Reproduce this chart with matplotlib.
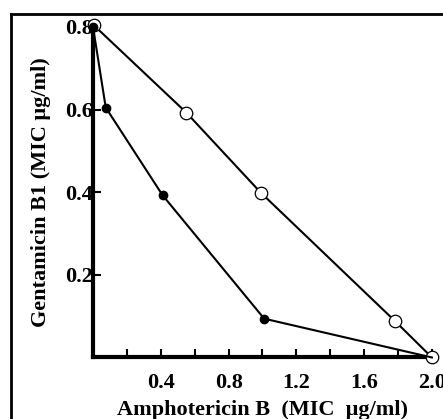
import matplotlib.pyplot as plt
from matplotlib.lines import Line2D

# isobologram data (MIC values)
ampho_open = [0.005, 0.55, 0.99, 1.78, 2.0]
genta_open = [0.804, 0.593, 0.399, 0.089, 0.0]
ampho_filled = [0.0, 0.075, 0.41, 1.01, 2.0]
genta_filled = [0.8, 0.605, 0.393, 0.094, 0.0]

xticks = [0.2, 0.4, 0.6, 0.8, 1.0, 1.2, 1.4, 1.6, 1.8, 2.0]
xticklabels = ['', '0.4', '', '0.8', '', '1.2', '', '1.6', '', '2.0']
yticks = [0.2, 0.4, 0.6, 0.8]

plt.rcParams['font.family'] = 'Liberation Serif'
plt.rcParams['font.weight'] = 'bold'

fig = plt.figure(figsize=(4.43, 4.19), dpi=100)
ax = fig.add_axes([0.21, 0.1468, 0.765, 0.7888])

ax.plot(ampho_open, genta_open, color='black', lw=1.5, marker='o',
        markersize=9, markerfacecolor='white', markeredgewidth=0.9,
        clip_on=False, zorder=3)
# filled markers on all but the shared end point, which shows the open circle
ax.plot(ampho_filled, genta_filled, color='black', lw=1.5, marker='o',
        markersize=6, markerfacecolor='black', markevery=[0, 1, 2, 3],
        clip_on=False, zorder=4)

ax.set_xlim(0, 2.0)
ax.set_ylim(0, 0.8)
ax.spines['top'].set_visible(False)
ax.spines['right'].set_visible(False)
ax.spines['left'].set_linewidth(3)
ax.spines['bottom'].set_linewidth(3)

ax.set_xticks(xticks)
ax.set_xticklabels(xticklabels)
ax.set_yticks(yticks)
ax.tick_params(direction='in', length=6, width=1.5, labelsize=16)
ax.tick_params(axis='y', pad=0)
ax.tick_params(axis='x', pad=11)

ax.set_xlabel('Amphotericin B  (MIC  \u03bcg/ml)', fontsize=16, fontweight='bold', labelpad=5)
ax.set_ylabel('Gentamicin B1 (MIC \u03bcg/ml)', fontsize=16, fontweight='bold', labelpad=10)

# outer frame (top and left edges)
fig.add_artist(Line2D([11 / 443, 11 / 443], [0, 1 - 14 / 419], color='black', lw=2, transform=fig.transFigure))
fig.add_artist(Line2D([11 / 443, 1], [1 - 14 / 419, 1 - 14 / 419], color='black', lw=2, transform=fig.transFigure))

fig.savefig('out.png', dpi=100)
